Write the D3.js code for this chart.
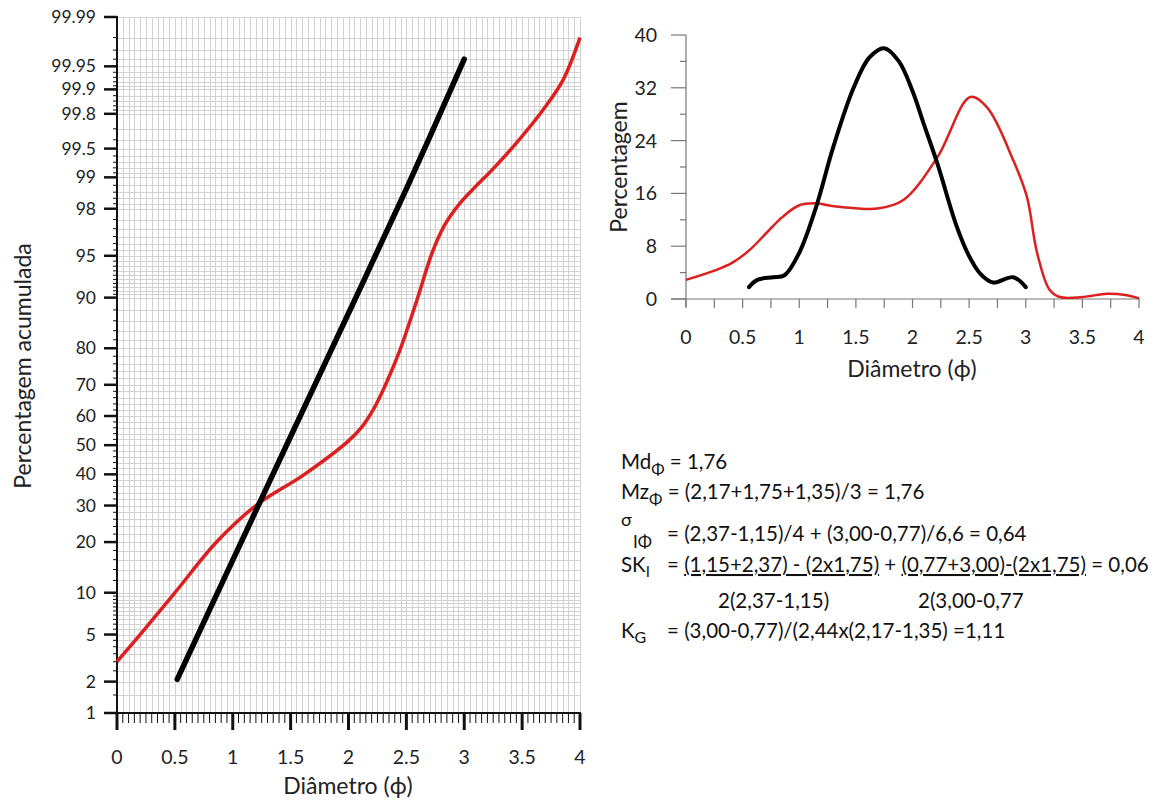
<!DOCTYPE html>
<html>
<head>
<meta charset="utf-8">
<script src="https://cdn.jsdelivr.net/npm/d3@7"></script>
<style>
  body { margin: 0; background: #fff; }
  svg { font-family: Lato, "Open Sans", sans-serif; }
</style>
</head>
<body>
<svg id="chart" width="1157" height="800"></svg>
<script>
// cumulative curve (probability paper), x = phi, y = cumulative %
var cumBlack = [
    [0.52, 2.1], [1.0, 15.9], [1.5, 53], [2.0, 87.4], [2.5, 98.7], [3.0, 99.96]
];
var cumRed = [
    [0, 3], [0.2, 5], [0.5, 10], [0.86, 20], [1.2, 30], [1.62, 40], [2.0, 51.5],
    [2.12, 56.5], [2.22, 62.5], [2.32, 70], [2.445, 79.6], [2.6, 90.1], [2.72, 95.2],
    [2.83, 97.2], [2.95, 98.15], [3.093, 98.75], [3.22, 99.11], [3.446, 99.56],
    [3.68, 99.82], [3.853, 99.924], [4.0, 99.98]
];

// frequency curves, x = phi, y = %
var freqBlack = [
    [0.556, 1.8], [0.63, 2.9], [0.77, 3.3], [0.87, 3.6], [1.0, 7], [1.15, 14],
    [1.3, 23], [1.48, 32], [1.62, 36.6], [1.75, 38], [1.88, 36], [2.0, 31.5],
    [2.1, 26.5], [2.22, 20.5], [2.39, 11], [2.5, 6.5], [2.6, 3.8], [2.71, 2.5],
    [2.89, 3.3], [3.0, 1.8]
];
var freqRed = [
    [0, 2.9], [0.27, 4.4], [0.41, 5.5], [0.56, 7.4], [0.71, 10], [0.85, 12.4],
    [1.0, 14.2], [1.14, 14.5], [1.29, 14.1], [1.47, 13.8], [1.69, 13.7], [1.92, 15],
    [2.22, 21.5], [2.51, 30.6], [2.66, 29], [2.89, 21], [3.01, 15.5], [3.1, 7],
    [3.21, 1.4], [3.3, 0.3], [3.5, 0.3], [3.72, 0.8], [3.88, 0.6], [4.0, 0.1]
];

var probTicks = [1, 2, 5, 10, 20, 30, 40, 50, 60, 70, 80, 90, 95, 98, 99, 99.5, 99.8, 99.9, 99.95, 99.99];
var phiTicks = [0, 0.5, 1, 1.5, 2, 2.5, 3, 3.5, 4];
var freqTicks = [0, 8, 16, 24, 32, 40];

// inverse normal cdf (Acklam), used for the probability scale
function probit(p) {
    var a = [-3.969683028665376e+01, 2.209460984245205e+02, -2.759285104469687e+02,
             1.383577518672690e+02, -3.066479806614716e+01, 2.506628277459239e+00];
    var b = [-5.447609879822406e+01, 1.615858368580409e+02, -1.556989798598866e+02,
             6.680131188771972e+01, -1.328068155288572e+01];
    var c = [-7.784894002430293e-03, -3.223964580411365e-01, -2.400758277161838e+00,
             -2.549732539343734e+00, 4.374664141464968e+00, 2.938163982698783e+00];
    var d = [7.784695709041462e-03, 3.224671290700398e-01, 2.445134137142996e+00,
             3.754408661907416e+00];
    var pl = 0.02425, q, r;
    if (p < pl) {
        q = Math.sqrt(-2 * Math.log(p));
        return (((((c[0]*q+c[1])*q+c[2])*q+c[3])*q+c[4])*q+c[5]) /
               ((((d[0]*q+d[1])*q+d[2])*q+d[3])*q+1);
    }
    if (p > 1 - pl) {
        q = Math.sqrt(-2 * Math.log(1 - p));
        return -(((((c[0]*q+c[1])*q+c[2])*q+c[3])*q+c[4])*q+c[5]) /
                ((((d[0]*q+d[1])*q+d[2])*q+d[3])*q+1);
    }
    q = p - 0.5;
    r = q * q;
    return (((((a[0]*r+a[1])*r+a[2])*r+a[3])*r+a[4])*r+a[5])*q /
           (((((b[0]*r+b[1])*r+b[2])*r+b[3])*r+b[4])*r+1);
}

var svg = d3.select("#chart");
var red = "#dc1f1f";
var ink = "#222";

// ---------- left chart ----------
var xL = d3.scaleLinear().domain([0, 4]).range([117, 580]);
var zL = d3.scaleLinear().domain([probit(0.01), probit(0.9999)]).range([713, 17]);
function yL(pct) { return zL(probit(pct / 100)); }

// minor percent positions for grid
var minorPct = [].concat(
    d3.range(1, 10, 0.5),
    d3.range(10, 90, 2),
    d3.range(90, 98, 0.5),
    d3.range(98, 99, 0.2),
    d3.range(99, 99.8, 0.1),
    d3.range(99.8, 99.9, 0.02),
    d3.range(99.9, 99.995, 0.01)
);
var minorPhi = d3.range(0.05, 4.001, 0.05);

var grid = svg.append("g").attr("stroke", "#d2d2d2").attr("stroke-width", 1);
grid.selectAll(".gv")
    .data(minorPhi)
    .enter().append("line")
    .attr("x1", function(d) { return Math.round(xL(d)) + 0.5; })
    .attr("x2", function(d) { return Math.round(xL(d)) + 0.5; })
    .attr("y1", 17)
    .attr("y2", 713);
grid.selectAll(".gh")
    .data(minorPct)
    .enter().append("line")
    .attr("x1", 117)
    .attr("x2", 580)
    .attr("y1", function(d) { return Math.round(yL(d)) + 0.5; })
    .attr("y2", function(d) { return Math.round(yL(d)) + 0.5; });

// y axis (probability)
var axL = svg.append("g").attr("stroke", "#111");
axL.append("line").attr("x1", 117).attr("x2", 117).attr("y1", 16).attr("y2", 714).attr("stroke-width", 2);
axL.selectAll(".ymin")
    .data(minorPct)
    .enter().append("line")
    .attr("x1", 113).attr("x2", 117)
    .attr("y1", function(d) { return yL(d); })
    .attr("y2", function(d) { return yL(d); })
    .attr("stroke-width", 1);
axL.selectAll(".ymaj")
    .data(probTicks)
    .enter().append("line")
    .attr("x1", 104).attr("x2", 117)
    .attr("y1", function(d) { return yL(d); })
    .attr("y2", function(d) { return yL(d); })
    .attr("stroke-width", 2.5);
svg.selectAll(".ylab")
    .data(probTicks)
    .enter().append("text")
    .attr("x", 96)
    .attr("y", function(d) { return yL(d) + 6; })
    .attr("text-anchor", "end")
    .attr("font-size", 17.5)
    .attr("fill", ink)
    .text(function(d) { return d; });

// x axis
axL.append("line").attr("x1", 116).attr("x2", 581).attr("y1", 713).attr("y2", 713).attr("stroke-width", 2);
axL.selectAll(".xmin")
    .data(minorPhi)
    .enter().append("line")
    .attr("x1", function(d) { return xL(d); })
    .attr("x2", function(d) { return xL(d); })
    .attr("y1", 713).attr("y2", 723)
    .attr("stroke-width", 1);
axL.selectAll(".xmaj")
    .data(phiTicks)
    .enter().append("line")
    .attr("x1", function(d) { return xL(d); })
    .attr("x2", function(d) { return xL(d); })
    .attr("y1", 713).attr("y2", 730)
    .attr("stroke-width", 3);
svg.selectAll(".xlab")
    .data(phiTicks)
    .enter().append("text")
    .attr("x", function(d) { return xL(d); })
    .attr("y", 764)
    .attr("text-anchor", "middle")
    .attr("font-size", 19.5)
    .attr("fill", ink)
    .text(function(d) { return d; });

svg.append("text")
    .attr("x", 348).attr("y", 794)
    .attr("text-anchor", "middle")
    .attr("font-size", 23)
    .attr("fill", ink)
    .text("Diâmetro (ϕ)");
svg.append("text")
    .attr("transform", "translate(31,366) rotate(-90)")
    .attr("text-anchor", "middle")
    .attr("font-size", 23)
    .attr("fill", ink)
    .text("Percentagem acumulada");

var lineL = d3.line()
    .x(function(d) { return xL(d[0]); })
    .y(function(d) { return yL(d[1]); })
    .curve(d3.curveCatmullRom);

svg.append("path")
    .datum(cumRed)
    .attr("d", lineL)
    .attr("fill", "none")
    .attr("stroke", red)
    .attr("stroke-width", 3.5);
svg.append("path")
    .datum(cumBlack)
    .attr("d", lineL)
    .attr("fill", "none")
    .attr("stroke", "#000")
    .attr("stroke-width", 5.5)
    .attr("stroke-linecap", "round");

// ---------- right chart ----------
var xR = d3.scaleLinear().domain([0, 4]).range([686, 1139]);
var yR = d3.scaleLinear().domain([0, 40]).range([299, 35]);
var axR = svg.append("g").attr("stroke", "#777").attr("stroke-width", 1.2);

axR.append("line").attr("x1", 686).attr("x2", 686).attr("y1", 35).attr("y2", 307);
axR.append("line").attr("x1", 671).attr("x2", 1140).attr("y1", 299).attr("y2", 299);
axR.selectAll(".rymaj")
    .data(freqTicks)
    .enter().append("line")
    .attr("x1", 671).attr("x2", 686)
    .attr("y1", function(d) { return yR(d); })
    .attr("y2", function(d) { return yR(d); });
axR.selectAll(".rymin")
    .data(d3.range(4, 40, 8))
    .enter().append("line")
    .attr("x1", 680).attr("x2", 686)
    .attr("y1", function(d) { return yR(d); })
    .attr("y2", function(d) { return yR(d); });
axR.selectAll(".rx")
    .data(d3.range(0, 4.01, 0.25))
    .enter().append("line")
    .attr("x1", function(d) { return xR(d); })
    .attr("x2", function(d) { return xR(d); })
    .attr("y1", 299).attr("y2", 308);

svg.selectAll(".rylab")
    .data(freqTicks)
    .enter().append("text")
    .attr("x", 657)
    .attr("y", function(d) { return yR(d) + 7; })
    .attr("text-anchor", "end")
    .attr("font-size", 19.5)
    .attr("fill", ink)
    .text(function(d) { return d; });
svg.selectAll(".rxlab")
    .data(phiTicks)
    .enter().append("text")
    .attr("x", function(d) { return xR(d); })
    .attr("y", 344)
    .attr("text-anchor", "middle")
    .attr("font-size", 19.5)
    .attr("fill", ink)
    .text(function(d) { return d; });

svg.append("text")
    .attr("x", 912).attr("y", 377)
    .attr("text-anchor", "middle")
    .attr("font-size", 23)
    .attr("fill", ink)
    .text("Diâmetro (ϕ)");
svg.append("text")
    .attr("transform", "translate(627,167) rotate(-90)")
    .attr("text-anchor", "middle")
    .attr("font-size", 23)
    .attr("fill", ink)
    .text("Percentagem");

var lineR = d3.line()
    .x(function(d) { return xR(d[0]); })
    .y(function(d) { return yR(d[1]); })
    .curve(d3.curveCatmullRom);

svg.append("path")
    .datum(freqRed)
    .attr("d", lineR)
    .attr("fill", "none")
    .attr("stroke", red)
    .attr("stroke-width", 2.5);
svg.append("path")
    .datum(freqBlack)
    .attr("d", lineR)
    .attr("fill", "none")
    .attr("stroke", "#000")
    .attr("stroke-width", 4)
    .attr("stroke-linecap", "round");

// ---------- statistics text ----------
var fs = svg.append("g").attr("font-size", 20.5).attr("fill", "#111");

function formula(y, main, sub, rest) {
    var t = fs.append("text").attr("x", 621).attr("y", y);
    t.append("tspan").text(main);
    t.append("tspan").attr("font-size", 16).attr("dy", 6).text(sub);
    t.append("tspan").attr("dy", -6).text(rest);
}
formula(469, "Md", "Φ", " = 1,76");
formula(499, "Mz", "Φ", " = (2,17+1,75+1,35)/3 = 1,76");

fs.append("text").attr("x", 621).attr("y", 526).attr("font-size", 18).text("σ");
fs.append("text").attr("x", 633).attr("y", 548).attr("font-size", 17).text("IΦ");
fs.append("text").attr("x", 667).attr("y", 541).text("= (2,37-1,15)/4 + (3,00-0,77)/6,6 = 0,64");

var sk = fs.append("text").attr("x", 621).attr("y", 572);
sk.append("tspan").text("SK");
sk.append("tspan").attr("font-size", 15).attr("dy", 5).text("I");
var skr = fs.append("text").attr("x", 667).attr("y", 572);
skr.append("tspan").text("= ");
skr.append("tspan").attr("text-decoration", "underline").text("(1,15+2,37) - (2x1,75)");
skr.append("tspan").text(" + ");
skr.append("tspan").attr("text-decoration", "underline").text("(0,77+3,00)-(2x1,75)");
skr.append("tspan").text(" = 0,06");

fs.append("text").attr("x", 718).attr("y", 608).text("2(2,37-1,15)");
fs.append("text").attr("x", 918).attr("y", 608).text("2(3,00-0,77");

var kg = fs.append("text").attr("x", 621).attr("y", 638);
kg.append("tspan").text("K");
kg.append("tspan").attr("font-size", 16).attr("dy", 5).text("G");
fs.append("text").attr("x", 667).attr("y", 638).text("= (3,00-0,77)/(2,44x(2,17-1,35) =1,11");
</script>
</body>
</html>
